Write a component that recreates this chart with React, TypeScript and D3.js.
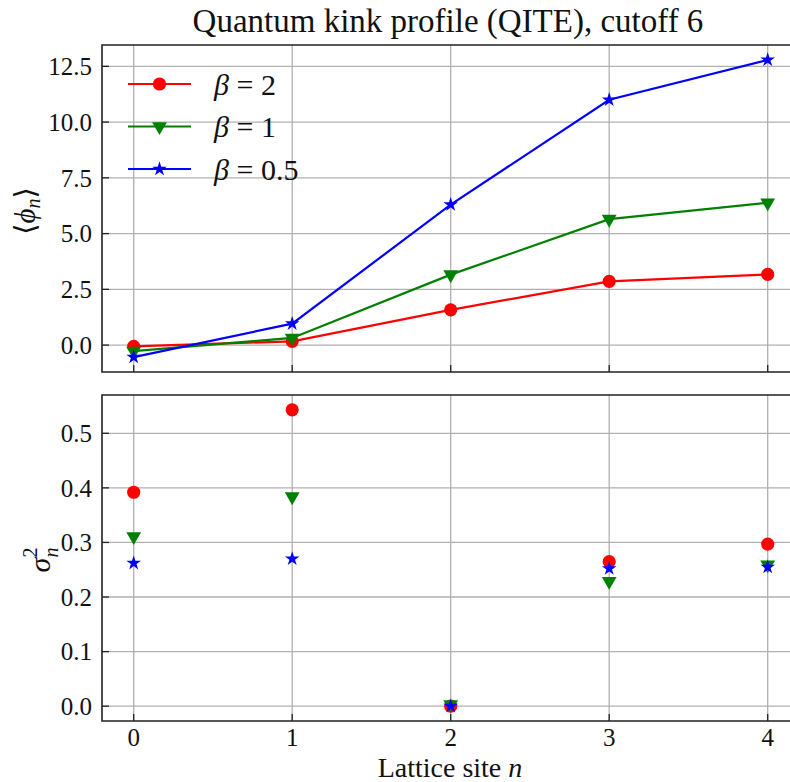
import React from "react";
import * as d3 from "d3";

const sites = [0, 1, 2, 3, 4];
const seriesNames = ["β = 2", "β = 1", "β = 0.5"];
const betaValues = ["2", "1", "0.5"];
const colors = ["#ff0000", "#008000", "#0000ff"];
const markers = ["circle", "triangleDown", "star"];
const phiBeta2 = [-0.06, 0.17, 1.58, 2.86, 3.17];
const phiBeta1 = [-0.27, 0.32, 3.16, 5.65, 6.38];
const phiBeta05 = [-0.54, 0.96, 6.3, 11.0, 12.79];
const varBeta2 = [0.392, 0.543, 0.0, 0.265, 0.297];
const varBeta1 = [0.311, 0.384, 0.003, 0.229, 0.259];
const varBeta05 = [0.262, 0.27, 0.0, 0.252, 0.255];
const xTicks = [0, 1, 2, 3, 4];
const phiTicks = [0, 2.5, 5, 7.5, 10, 12.5];
const varTicks = [0, 0.1, 0.2, 0.3, 0.4, 0.5];
const title = "Quantum kink profile (QITE), cutoff 6";

const FONT = "'Liberation Serif', 'DejaVu Serif', serif";

function Marker({ type, x, y, color }: any) {
  if (type === "circle") return <circle cx={x} cy={y} r={6.6} fill={color} />;
  if (type === "triangleDown") {
    const p = d3.symbol().type(d3.symbolTriangle).size(95)();
    return <path d={p!} transform={`translate(${x},${y}) rotate(180)`} fill={color} />;
  }
  const p = d3.symbol().type(d3.symbolStar).size(66)();
  return <path d={p!} transform={`translate(${x},${y})`} fill={color} />;
}

export default function App() {
  const W = 790, H = 782;
  const left = 102;
  const x = d3.scaleLinear().domain([-0.2, 4.2]).range([left, left + 4.4 * 158.5]);
  const top1 = 45, bot1 = 372, top2 = 395, bot2 = 721;
  const phiAll = [...phiBeta2, ...phiBeta1, ...phiBeta05];
  const pMin = d3.min(phiAll)!, pMax = d3.max(phiAll)!;
  const pPad = (pMax - pMin) * 0.05;
  const y1 = d3.scaleLinear().domain([pMin - pPad, pMax + pPad]).range([bot1, top1]);
  const varAll = [...varBeta2, ...varBeta1, ...varBeta05];
  const vMin = d3.min(varAll)!, vMax = d3.max(varAll)!;
  const vPad = (vMax - vMin) * 0.05;
  const y2 = d3.scaleLinear().domain([vMin - vPad, vMax + vPad]).range([bot2, top2]);
  const phiSeries = [phiBeta2, phiBeta1, phiBeta05];
  const varSeries = [varBeta2, varBeta1, varBeta05];
  const line = d3.line<number>().x((_, i) => x(sites[i])).y((d) => y1(d));
  const right = W + 20;
  const grid = "#b0b0b0";
  const tickLen = 7;
  const fs = 25;

  const panel = (top: number, bot: number, y: any, ticks: number[], fmt: (v: number) => string, showX: boolean) => (
    <g>
      {xTicks.map((t) => (
        <line key={"gx" + t} x1={x(t)} x2={x(t)} y1={top} y2={bot} stroke={grid} strokeWidth={1.3} />
      ))}
      {ticks.map((t) => (
        <line key={"gy" + t} x1={left} x2={right} y1={y(t)} y2={y(t)} stroke={grid} strokeWidth={1.3} />
      ))}
      {ticks.map((t) => (
        <g key={"ty" + t}>
          <line x1={left} x2={left + tickLen} y1={y(t)} y2={y(t)} stroke="#222" strokeWidth={1.3} />
          <text x={left - 10} y={y(t)} dy="0.35em" textAnchor="end" fontSize={fs} fontFamily={FONT} fill="#111">
            {fmt(t)}
          </text>
        </g>
      ))}
      {xTicks.map((t) => (
        <g key={"tx" + t}>
          <line x1={x(t)} x2={x(t)} y1={bot} y2={bot - tickLen} stroke="#222" strokeWidth={1.3} />
          {showX && (
            <text x={x(t)} y={bot + 25} textAnchor="middle" fontSize={fs} fontFamily={FONT} fill="#111">
              {String(t)}
            </text>
          )}
        </g>
      ))}
    </g>
  );

  const frame = (top: number, bot: number) => (
    <path d={`M${right},${top}H${left}V${bot}H${right}`} fill="none" stroke="#222" strokeWidth={1.6} />
  );

  return (
    <svg width={W} height={H} viewBox={`0 0 ${W} ${H}`} style={{ display: "block", position: "absolute", left: 0, top: 0 }}>
      <rect width={W} height={H} fill="#fff" />
      <text x={448} y={32} textAnchor="middle" fontSize={33} fontFamily={FONT} fill="#111">
        {title}
      </text>
      {panel(top1, bot1, y1, phiTicks, (v) => v.toFixed(1), false)}
      {phiSeries.map((s, k) => (
        <g key={"ps" + k}>
          <path d={line(s)!} fill="none" stroke={colors[k]} strokeWidth={2.2} />
          {s.map((v, i) => (
            <Marker key={i} type={markers[k]} x={x(sites[i])} y={y1(v)} color={colors[k]} />
          ))}
        </g>
      ))}
      {frame(top1, bot1)}
      {/* legend */}
      {seriesNames.map((n, k) => {
        const ly = 84 + k * 42.5;
        return (
          <g key={"lg" + k}>
            <line x1={128} x2={191} y1={ly} y2={ly} stroke={colors[k]} strokeWidth={2.2} />
            <Marker type={markers[k]} x={159.5} y={ly} color={colors[k]} />
            <text x={214} y={ly} dy="0.35em" fontSize={30} fontFamily={FONT} fill="#111">
              <tspan fontStyle="italic">β</tspan>
              <tspan> = {betaValues[k]}</tspan>
            </text>
          </g>
        );
      })}
      {panel(top2, bot2, y2, varTicks, (v) => v.toFixed(1), true)}
      {varSeries.map((s, k) => (
        <g key={"vs" + k}>
          {s.map((v, i) => (
            <Marker key={i} type={markers[k]} x={x(sites[i])} y={y2(v)} color={colors[k]} />
          ))}
        </g>
      ))}
      {frame(top2, bot2)}
      {/* y labels */}
      <text transform={`translate(35,211) rotate(-90)`} textAnchor="middle" fontSize={29} fontFamily={FONT} fill="#111">
        <tspan>⟨</tspan>
        <tspan fontStyle="italic">ϕ</tspan>
        <tspan fontStyle="italic" fontSize={20} dy={5}>n</tspan>
        <tspan dy={-5}>⟩</tspan>
      </text>
      <text transform={`translate(50,560) rotate(-90)`} textAnchor="middle" fontSize={30} fontFamily={FONT} fill="#111">
        <tspan fontStyle="italic">σ</tspan>
        <tspan fontSize={20} dy={-13}>2</tspan>
        <tspan fontStyle="italic" fontSize={20} dx={-10} dy={21}>n</tspan>
      </text>
      <text x={450} y={777} textAnchor="middle" fontSize={28} fontFamily={FONT} fill="#111">
        <tspan>Lattice site </tspan>
        <tspan fontStyle="italic">n</tspan>
      </text>
    </svg>
  );
}
